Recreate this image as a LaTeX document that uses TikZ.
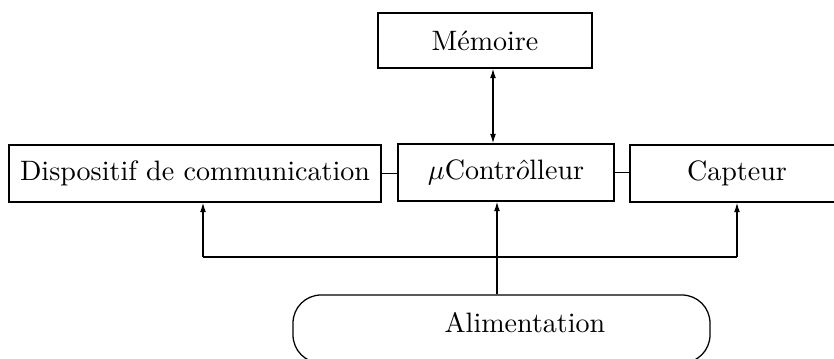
\documentclass[tikz,border=0pt]{standalone}
\usetikzlibrary{arrows.meta}
\newcommand\pxu{0.3563pt}
\begin{document}
\begin{tikzpicture}[x=0.3563pt,y=-0.3563pt,
  box/.style={draw,line width=0.45pt,inner sep=0pt,minimum height=57*\pxu},
  conn/.style={line width=0.45pt},
  arr/.style={line width=0.45pt,-{Latex[length=3.4pt,width=2.1pt]}},
  darr/.style={line width=0.45pt,{Latex[length=3.4pt,width=2.1pt]}-{Latex[length=3.4pt,width=2.1pt]}}]
\useasboundingbox (0,0) rectangle (834,359);
\clip (0,0) rectangle (834,359);
\node[box,minimum width=372*\pxu] (disp) at (195,173.5) {Dispositif de communication};
\node[box,minimum width=216*\pxu] (ctrl) at (506,172.5) {$\mu$Contr$\hat{o}$lleur};
\node[box,minimum width=254*\pxu] (capt) at (757,173.5) {};
\node (capttext) at (737,173.5) {Capteur};
\node[box,minimum width=214*\pxu,minimum height=55*\pxu] (mem) at (485,40.5) {Mémoire};
\node[draw,line width=0.45pt,rounded corners=10pt,inner sep=0pt,minimum width=417*\pxu,minimum height=68*\pxu] (alim) at (501.5,329) {};
\node (alimtext) at (525,323) {Alimentation};
\coordinate (memx) at (493,0);
\coordinate (alimx) at (497,0);
\coordinate (busl) at (203,257);
\coordinate (busr) at (737,257);
\draw[conn] (disp.east) -- (disp.east -| ctrl.west);
\draw[conn] (ctrl.east) -- (ctrl.east -| capt.west);
\draw[darr] (mem.south -| memx) -- (ctrl.north -| memx);
\draw[arr] (alim.north -| alimx) -- (ctrl.south -| alimx);
\draw[conn] (busl) -- (busr);
\draw[arr] (busl) -- (busl |- disp.south);
\draw[arr] (busr) -- (busr |- capt.south);
\end{tikzpicture}
\end{document}
